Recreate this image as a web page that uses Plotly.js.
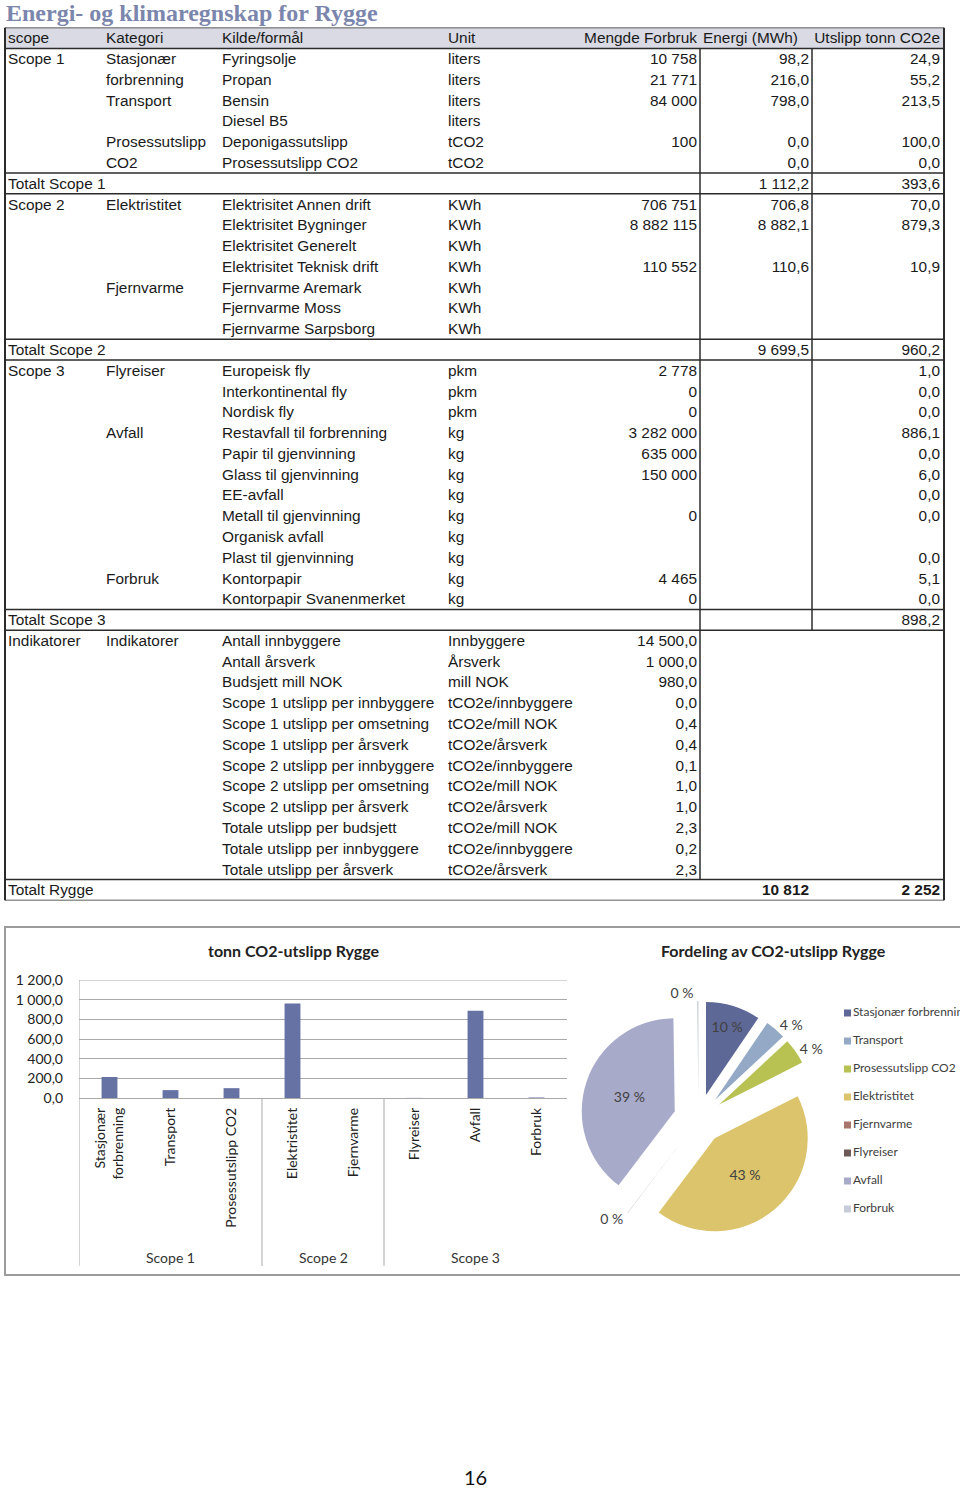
<!DOCTYPE html>
<html><head><meta charset="utf-8">
<script src="https://cdn.plot.ly/plotly-3.0.1.min.js"></script>
<style>html,body{margin:0;padding:0;background:#fff}#chart{width:960px;height:1490px}</style>
</head><body><div id="chart"></div>
<script>
// ---------- DATA ----------
const pageTitle = 'Energi- og klimaregnskap for Rygge';
const tableHeaders = ['scope','Kategori','Kilde/formål','Unit','Mengde Forbruk','Energi (MWh)','Utslipp tonn CO2e'];

const scopeCol = [
  'Scope 1','','','','','','Totalt Scope 1',
  'Scope 2','','','','','','','Totalt Scope 2',
  'Scope 3','','','','','','','','','','','','Totalt Scope 3',
  'Indikatorer','','','','','','','','','','','','Totalt Rygge'
];
const kategoriCol = [
  'Stasjonær','forbrenning','Transport','','Prosessutslipp','CO2','',
  'Elektristitet','','','','Fjernvarme','','','',
  'Flyreiser','','','Avfall','','','','','','','Forbruk','','',
  'Indikatorer','','','','','','','','','','','',''
];
const kildeCol = [
  'Fyringsolje','Propan','Bensin','Diesel B5','Deponigassutslipp','Prosessutslipp CO2','',
  'Elektrisitet Annen drift','Elektrisitet Bygninger','Elektrisitet Generelt','Elektrisitet Teknisk drift','Fjernvarme Aremark','Fjernvarme Moss','Fjernvarme Sarpsborg','',
  'Europeisk fly','Interkontinental fly','Nordisk fly','Restavfall til forbrenning','Papir til gjenvinning','Glass til gjenvinning','EE-avfall','Metall til gjenvinning','Organisk avfall','Plast til gjenvinning','Kontorpapir','Kontorpapir Svanenmerket','',
  'Antall innbyggere','Antall årsverk','Budsjett mill NOK','Scope 1 utslipp per innbyggere','Scope 1 utslipp per omsetning','Scope 1 utslipp per årsverk','Scope 2 utslipp per innbyggere','Scope 2 utslipp per omsetning','Scope 2 utslipp per årsverk','Totale utslipp per budsjett','Totale utslipp per innbyggere','Totale utslipp per årsverk',''
];
const unitCol = [
  'liters','liters','liters','liters','tCO2','tCO2','',
  'KWh','KWh','KWh','KWh','KWh','KWh','KWh','',
  'pkm','pkm','pkm','kg','kg','kg','kg','kg','kg','kg','kg','kg','',
  'Innbyggere','Årsverk','mill NOK','tCO2e/innbyggere','tCO2e/mill NOK','tCO2e/årsverk','tCO2e/innbyggere','tCO2e/mill NOK','tCO2e/årsverk','tCO2e/mill NOK','tCO2e/innbyggere','tCO2e/årsverk',''
];
const mengdeCol = [
  '10 758','21 771','84 000','','100','','',
  '706 751','8 882 115','','110 552','','','','',
  '2 778','0','0','3 282 000','635 000','150 000','','0','','','4 465','0','',
  '14 500,0','1 000,0','980,0','0,0','0,4','0,4','0,1','1,0','1,0','2,3','0,2','2,3',''
];
const energiCol = [
  '98,2','216,0','798,0','','0,0','0,0','1 112,2',
  '706,8','8 882,1','','110,6','','','','9 699,5',
  '','','','','','','','','','','','','',
  '','','','','','','','','','','','','<b>10 812</b>'
];
const utslippCol = [
  '24,9','55,2','213,5','','100,0','0,0','393,6',
  '70,0','879,3','','10,9','','','','960,2',
  '1,0','0,0','0,0','886,1','0,0','6,0','0,0','0,0','','0,0','5,1','0,0','898,2',
  '','','','','','','','','','','','','<b>2 252</b>'
];

const barTitle = 'tonn CO2-utslipp Rygge';
const pieTitle = 'Fordeling av CO2-utslipp Rygge';
const chartCategories = ['Stasjonær forbrenning','Transport','Prosessutslipp CO2','Elektristitet','Fjernvarme','Flyreiser','Avfall','Forbruk'];
const chartAxisLabels = ['Stasjonær<br>forbrenning','Transport','Prosessutslipp CO2','Elektristitet','Fjernvarme','Flyreiser','Avfall','Forbruk'];
const chartScopes = ['Scope 1','Scope 1','Scope 1','Scope 2','Scope 2','Scope 3','Scope 3','Scope 3'];
const co2Values = [213.5, 80.1, 100.0, 960.2, 0, 1.0, 886.1, 5.1];
const yTicks = [0, 200, 400, 600, 800, 1000, 1200];
const pageNumber = '16';

// ---------- STYLE / LAYOUT ----------
const W = 960, H = 1490;
const py = p => (H - p) / H;   // pixel y -> paper
const px = p => p / W;
const tableFont = {family: 'Liberation Sans, Arial, sans-serif', size: 15.4, color: '#1a1a1a'};
const chartFont = 'Lato, Open Sans, sans-serif';
const pieColors = ['#5e6896','#94a9c5','#b7c253','#dbc46c','#a9766e','#6d5a58','#a8aac9','#c6cdd8'];
const barColor = '#6672a4';
const lineColor = '#2b2b2b';
const gridColor = '#a9a9a9';
const textDy = 0.07;   // small downward nudge of cell text within its row

const nRows = scopeCol.length;
const rowIdx = scopeCol.map((_, i) => i + 1 + textDy);
const columns = [
  {data: scopeCol, x: 8, pos: 'middle right'},
  {data: kategoriCol, x: 106, pos: 'middle right'},
  {data: kildeCol, x: 222, pos: 'middle right'},
  {data: unitCol, x: 448, pos: 'middle right'},
  {data: mengdeCol, x: 697, pos: 'middle left'},
  {data: energiCol, x: 809, pos: 'middle left'},
  {data: utslippCol, x: 940, pos: 'middle left'}
];
const headerX = [8, 106, 222, 448, 697, 703, 940];
const headerPos = ['middle right','middle right','middle right','middle right','middle left','middle right','middle left'];

const traces = [];
columns.forEach(c => {
  traces.push({type: 'scatter', mode: 'text', x: c.data.map(() => c.x), y: rowIdx, text: c.data,
    textposition: c.pos, textfont: tableFont, xaxis: 'x', yaxis: 'y', hoverinfo: 'skip', showlegend: false, cliponaxis: false});
});
traces.push({type: 'scatter', mode: 'text', x: headerX, y: tableHeaders.map(() => textDy), text: tableHeaders,
  textposition: headerPos, textfont: tableFont, xaxis: 'x', yaxis: 'y', hoverinfo: 'skip', showlegend: false, cliponaxis: false});

// bar chart
traces.push({type: 'bar', x: chartCategories, y: co2Values, xaxis: 'x2', yaxis: 'y2', width: 0.26,
  marker: {color: barColor}, hoverinfo: 'skip', showlegend: false});

// pie
const total = co2Values.reduce((a, b) => a + b, 0);
const pieText = co2Values.map(v => v > 0 ? Math.round(v / total * 100) + ' %' : '');
const piePos = co2Values.map(v => v <= 0 ? 'none' : (v / total > 0.08 ? 'inside' : 'outside'));
const pieCx = 698.6, pieCy = 1119, pieR = 93, pull = 0.27;
const half = pieR * (1 + pull);
traces.push({type: 'pie', values: co2Values, labels: chartCategories, sort: false, direction: 'clockwise', rotation: 0,
  pull: pull, marker: {colors: pieColors, line: {width: 0}}, text: pieText, textinfo: 'text', textposition: piePos,
  insidetextorientation: 'horizontal',
  textfont: {family: chartFont, size: 14, color: '#404040'}, showlegend: false, hoverinfo: 'skip',
  domain: {x: [px(pieCx - half), px(pieCx + half)], y: [py(pieCy + half), py(pieCy - half)]}});

// legend built from categories
traces.push({type: 'scatter', mode: 'markers+text', x: chartCategories.map(() => 0), y: chartCategories.map((_, i) => i),
  text: chartCategories, textposition: 'middle right', cliponaxis: false,
  marker: {symbol: 'square', size: 7, color: pieColors}, textfont: {family: chartFont, size: 12, color: '#404040'},
  xaxis: 'x3', yaxis: 'y3', hoverinfo: 'skip', showlegend: false});

// table lines
const shapes = [];
const L = {type: 'line', xref: 'x', yref: 'y', line: {color: lineColor, width: 1.5}};
shapes.push({type: 'rect', xref: 'x', yref: 'y', x0: 5, x1: 944, y0: -0.5, y1: 0.5, fillcolor: '#d9dae3', line: {width: 0}, layer: 'below'});
const hLines = [-0.5, 0.5];
scopeCol.forEach((s, i) => { if (s.indexOf('Totalt') === 0) { hLines.push(i + 0.5, i + 1.5); } });
hLines.forEach(y => shapes.push(Object.assign({}, L, {x0: 5, x1: 944, y0: y, y1: y})));
shapes.push(Object.assign({}, L, {x0: 5, x1: 5, y0: -0.5, y1: nRows + 0.5, line: {color: lineColor, width: 2}}));
shapes.push(Object.assign({}, L, {x0: 944, x1: 944, y0: -0.5, y1: nRows + 0.5, line: {color: lineColor, width: 2}}));
shapes.push(Object.assign({}, L, {x0: 700, x1: 700, y0: 0.5, y1: nRows - 0.5}));
const lastScopeTotal = scopeCol.lastIndexOf('Totalt Scope 3') + 1;
shapes.push(Object.assign({}, L, {x0: 812, x1: 812, y0: 0.5, y1: lastScopeTotal + 0.5}));

// chart frame
shapes.push({type: 'rect', xref: 'paper', yref: 'paper', x0: px(5), x1: px(963), y0: py(1275), y1: py(927),
  line: {color: '#9c9c9c', width: 2}, fillcolor: 'rgba(0,0,0,0)'});

// top gridline of bar chart (range edge)
shapes.push({type: 'line', xref: 'paper', yref: 'y2', x0: px(79), x1: px(567), y0: yTicks[yTicks.length - 1], y1: yTicks[yTicks.length - 1],
  line: {color: gridColor, width: 1}});
// bar chart group separators
shapes.push({type: 'line', xref: 'x2', yref: 'paper', x0: -0.5, x1: -0.5, y0: py(1266), y1: py(980), line: {color: gridColor, width: 1}});
chartScopes.forEach((s, i) => {
  if (i > 0 && s !== chartScopes[i - 1]) {
    shapes.push({type: 'line', xref: 'x2', yref: 'paper', x0: i - 0.5, x1: i - 0.5, y0: py(1266), y1: py(1098), line: {color: gridColor, width: 1}});
  }
});

const annotations = [
  {text: '<b>' + pageTitle + '</b>', xref: 'paper', yref: 'paper', x: px(4), y: py(13), xanchor: 'left', yanchor: 'middle', showarrow: false,
    font: {family: 'Liberation Serif, DejaVu Serif, serif', size: 24, color: '#7b86ad'}},
  {text: '<b>' + barTitle + '</b>', xref: 'paper', yref: 'paper', x: px(294), y: py(950), xanchor: 'center', yanchor: 'middle', showarrow: false,
    font: {family: chartFont, size: 16, color: '#222'}},
  {text: '<b>' + pieTitle + '</b>', xref: 'paper', yref: 'paper', x: px(773), y: py(950), xanchor: 'center', yanchor: 'middle', showarrow: false,
    font: {family: chartFont, size: 16, color: '#222'}},
  {text: pageNumber, xref: 'paper', yref: 'paper', x: px(475), y: py(1477), xanchor: 'center', yanchor: 'middle', showarrow: false,
    font: {family: chartFont, size: 20, color: '#111'}}
];
// scope group labels
[...new Set(chartScopes)].forEach(s => {
  const idx = chartScopes.map((v, i) => v === s ? i : -1).filter(i => i >= 0);
  const mid = idx.reduce((a, b) => a + b, 0) / idx.length;
  annotations.push({text: s, xref: 'x2', yref: 'paper', x: mid, y: py(1257), xanchor: 'center', yanchor: 'middle', showarrow: false,
    font: {family: chartFont, size: 14, color: '#333'}});
});

const layout = {
  width: W, height: H, margin: {l: 0, r: 0, t: 0, b: 0}, paper_bgcolor: '#fff', plot_bgcolor: 'rgba(0,0,0,0)',
  showlegend: false, separators: ', ', font: {family: chartFont},
  xaxis: {domain: [0, 1], range: [0, W], visible: false, fixedrange: true},
  yaxis: {domain: [py(900.39), py(27.61)], range: [nRows + 0.5, -0.5], visible: false, fixedrange: true},
  xaxis2: {domain: [px(79), px(567)], anchor: 'y2', type: 'category', categoryarray: chartCategories, range: [-0.5, 7.5],
    tickvals: chartCategories, ticktext: chartAxisLabels, tickangle: -90, ticks: '', showgrid: false, showline: false, zeroline: false,
    ticklabelstandoff: 6, tickfont: {family: chartFont, size: 14, color: '#222'}},
  yaxis2: {domain: [py(1098), py(980)], anchor: 'x2', range: [0, 1200], tickvals: yTicks, tickformat: ',.1f',
    showgrid: true, gridcolor: gridColor, gridwidth: 1, zeroline: true, zerolinecolor: gridColor, zerolinewidth: 1,
    showline: false, ticks: '', ticklabelstandoff: 15, tickfont: {family: chartFont, size: 14, color: '#222'}},
  xaxis3: {domain: [px(847.5), 1], range: [0, 1], visible: false, fixedrange: true},
  yaxis3: {domain: [py(1223), py(999)], anchor: 'x3', range: [7.5, -0.5], visible: false, fixedrange: true},
  shapes: shapes, annotations: annotations
};

Plotly.newPlot('chart', traces, layout, {staticPlot: true, displayModeBar: false});
</script></body></html>
